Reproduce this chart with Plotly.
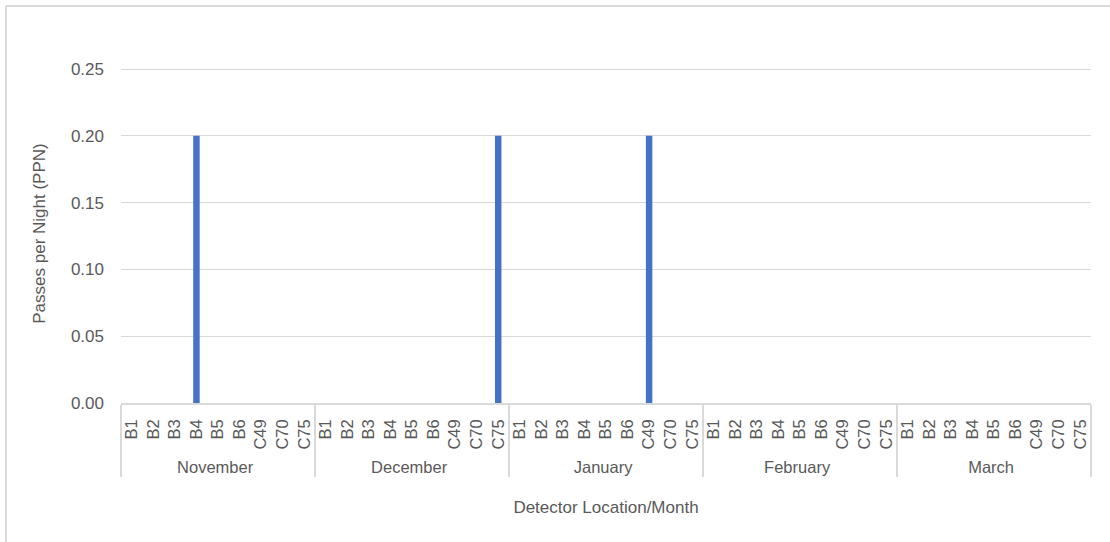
import plotly.graph_objects as go

months = ["November", "December", "January", "February", "March"]
detectors = ["B1", "B2", "B3", "B4", "B5", "B6", "C49", "C70", "C75"]

# Passes per night for each detector, one list per month
ppn_november = [0, 0, 0, 0.2, 0, 0, 0, 0, 0]
ppn_december = [0, 0, 0, 0, 0, 0, 0, 0, 0.2]
ppn_january = [0, 0, 0, 0, 0, 0, 0.2, 0, 0]
ppn_february = [0, 0, 0, 0, 0, 0, 0, 0, 0]
ppn_march = [0, 0, 0, 0, 0, 0, 0, 0, 0]

y_ticks = [0, 0.05, 0.10, 0.15, 0.20, 0.25]

series = [ppn_november, ppn_december, ppn_january, ppn_february, ppn_march]
outer = [m for m in months for _ in detectors]
inner = [d for _ in months for d in detectors]
values = [v for s in series for v in s]

GRID = "#d9d9d9"
TEXT = "#595959"
FONT = "Liberation Sans, Arial, sans-serif"

fig = go.Figure(
    go.Bar(
        x=[outer, inner],
        y=values,
        marker=dict(color="#4472C4", line=dict(width=0)),
        width=0.3,
    )
)

# Plot area: the top of the y range sits a few pixels above the 0.25 gridline
# so that the gridline is not clipped at the edge.
L, R, T, B = 121, 19, 64, 139
W, H = 1110, 542
pw, ph = W - L - R, H - T - B
y_max = 0.25 * ph / (ph - 5)

fig.update_layout(
    width=W,
    height=H,
    margin=dict(l=L, r=R, t=T, b=B),
    paper_bgcolor="white",
    plot_bgcolor="white",
    font=dict(family=FONT, color=TEXT, size=17),
    showlegend=False,
    xaxis=dict(
        type="multicategory",
        tickangle=-90,
        tickfont=dict(size=16.5, color=TEXT),
        ticklabelstandoff=8,
        showline=True,
        linecolor=GRID,
        linewidth=1.5,
        showgrid=False,
        ticks="",
        showdividers=True,
        dividercolor=GRID,
        dividerwidth=1.5,
        title=dict(text="Detector Location/Month", font=dict(size=17, color=TEXT), standoff=26),
    ),
    yaxis=dict(
        range=[0, y_max],
        tickvals=y_ticks,
        tickformat=".2f",
        tickfont=dict(size=17, color=TEXT),
        ticklabelstandoff=16,
        showgrid=True,
        gridcolor=GRID,
        gridwidth=1.3,
        zeroline=False,
        showline=False,
        ticks="",
        title=dict(text="Passes per Night (PPN)", font=dict(size=17, color=TEXT), standoff=20),
    ),
)

# Chart-area frame (left and top edges)
x_left = (6 - L) / pw
y_top = (H - B - 6) / ph
fig.add_shape(type="line", xref="paper", yref="paper", x0=x_left, x1=x_left,
              y0=-B / ph - 0.1, y1=y_top, line=dict(color=GRID, width=2))
fig.add_shape(type="line", xref="paper", yref="paper", x0=x_left, x1=1 + R / pw + 0.1,
              y0=y_top, y1=y_top, line=dict(color=GRID, width=2))

fig.write_html("out.html")
